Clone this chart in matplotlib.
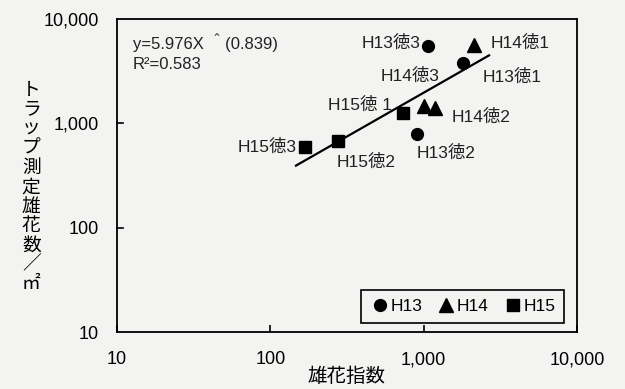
import matplotlib
matplotlib.use("Agg")
import matplotlib.pyplot as plt
import matplotlib.ticker as mtick
import numpy as np

plt.rcParams['font.family'] = ['Liberation Sans', 'Noto Sans CJK JP', 'DejaVu Sans']

# 雄花指数 (x) と トラップ測定雄花数/㎡ (y)
h13_x = [1070, 1810, 905]
h13_y = [5500, 3800, 790]
h13_lab = ['H13徳3', 'H13徳1', 'H13徳2']

h14_x = [2130, 1005, 1185]
h14_y = [5650, 1470, 1400]
h14_lab = ['H14徳1', 'H14徳3', 'H14徳2']

h15_x = [735, 277, 168]
h15_y = [1255, 677, 593]
h15_lab = ['H15徳 1', 'H15徳2', 'H15徳3']

fit_a = 5.976
fit_b = 0.839
fit_x = [147, 2670]

# label offsets in pixels (dx, dy, ha)
OFFS = {
    'H13徳3': (-8, 3, 'right'),
    'H13徳1': (19, -14, 'left'),
    'H13徳2': (0, -19, 'left'),
    'H14徳1': (17, 2, 'left'),
    'H14徳3': (-14, 30, 'center'),
    'H14徳2': (17, -9, 'left'),
    'H15徳 1': (-11, 8, 'right'),
    'H15徳2': (-2, -21, 'left'),
    'H15徳3': (-8, 0, 'right'),
}

BG = '#f3f3f2'
fig = plt.figure(figsize=(6.25, 3.89), dpi=100, facecolor=BG)
ax = fig.add_axes([0.1872, 0.1465, 0.736, 0.8047], facecolor=BG)

ax.set_xscale('log')
ax.set_yscale('log')
ax.set_xlim(10, 10000)
ax.set_ylim(10, 10000)

fx = np.array(fit_x, dtype=float)
ax.plot(fx, fit_a * fx ** fit_b, color='black', lw=1.6, zorder=2)

ax.plot(h13_x, h13_y, 'o', color='black', ms=8.5, ls='none', label='H13', zorder=3)
ax.plot(h14_x, h14_y, '^', color='black', ms=9.5, ls='none', label='H14', zorder=3)
ax.plot(h15_x, h15_y, 's', color='black', ms=8.5, ls='none', label='H15', zorder=3)

for xs, ys, labs in [(h13_x, h13_y, h13_lab), (h14_x, h14_y, h14_lab), (h15_x, h15_y, h15_lab)]:
    for x, y, t in zip(xs, ys, labs):
        dx, dy, ha = OFFS[t]
        ax.annotate(t, (x, y), xytext=(dx, dy), textcoords='offset pixels',
                    ha=ha, va='center', fontsize=12.5, color='#222222')

ax.text(0.035, 0.925, 'y=5.976X ＾(0.839)', transform=ax.transAxes,
        fontsize=12, va='center', ha='left', color='#222222')
ax.text(0.035, 0.855, 'R²=0.583', transform=ax.transAxes,
        fontsize=12, va='center', ha='left', color='#222222')

fmt = mtick.FuncFormatter(lambda v, p: '{:,.0f}'.format(v))
ax.xaxis.set_major_formatter(fmt)
ax.yaxis.set_major_formatter(fmt)
ax.xaxis.set_minor_locator(mtick.NullLocator())
ax.yaxis.set_minor_locator(mtick.NullLocator())
ax.tick_params(axis='both', direction='in', length=5, width=1.2, labelsize=13,
               colors='black', pad=14)
ax.tick_params(axis='y', direction='out', length=0, pad=13)
for v in [100, 1000]:
    ax.plot([10, 10.9], [v, v], color='black', lw=1.2, clip_on=False)
for s in ax.spines.values():
    s.set_linewidth(1.3)

ax.set_xlabel('雄花指数', fontsize=14, labelpad=-2, family=['Noto Sans CJK JP'])
ylab = '\n'.join('トラップ測定雄花数／㎡')
fig.text(0.05, 0.52, ylab, fontsize=13.5, ha='center', va='center',
         linespacing=0.9, family=['Noto Sans CJK JP', 'DejaVu Sans'])

leg = ax.legend(loc='lower right', bbox_to_anchor=(0.972, 0.029), ncol=3,
                fontsize=12.5, handletextpad=0.0, columnspacing=0.8,
                handlelength=1.2, borderaxespad=0, fancybox=False,
                edgecolor='black', framealpha=1, facecolor=BG,
                borderpad=0.5)
leg.get_frame().set_linewidth(1.2)

fig.savefig('out.png', dpi=100, facecolor=BG)
